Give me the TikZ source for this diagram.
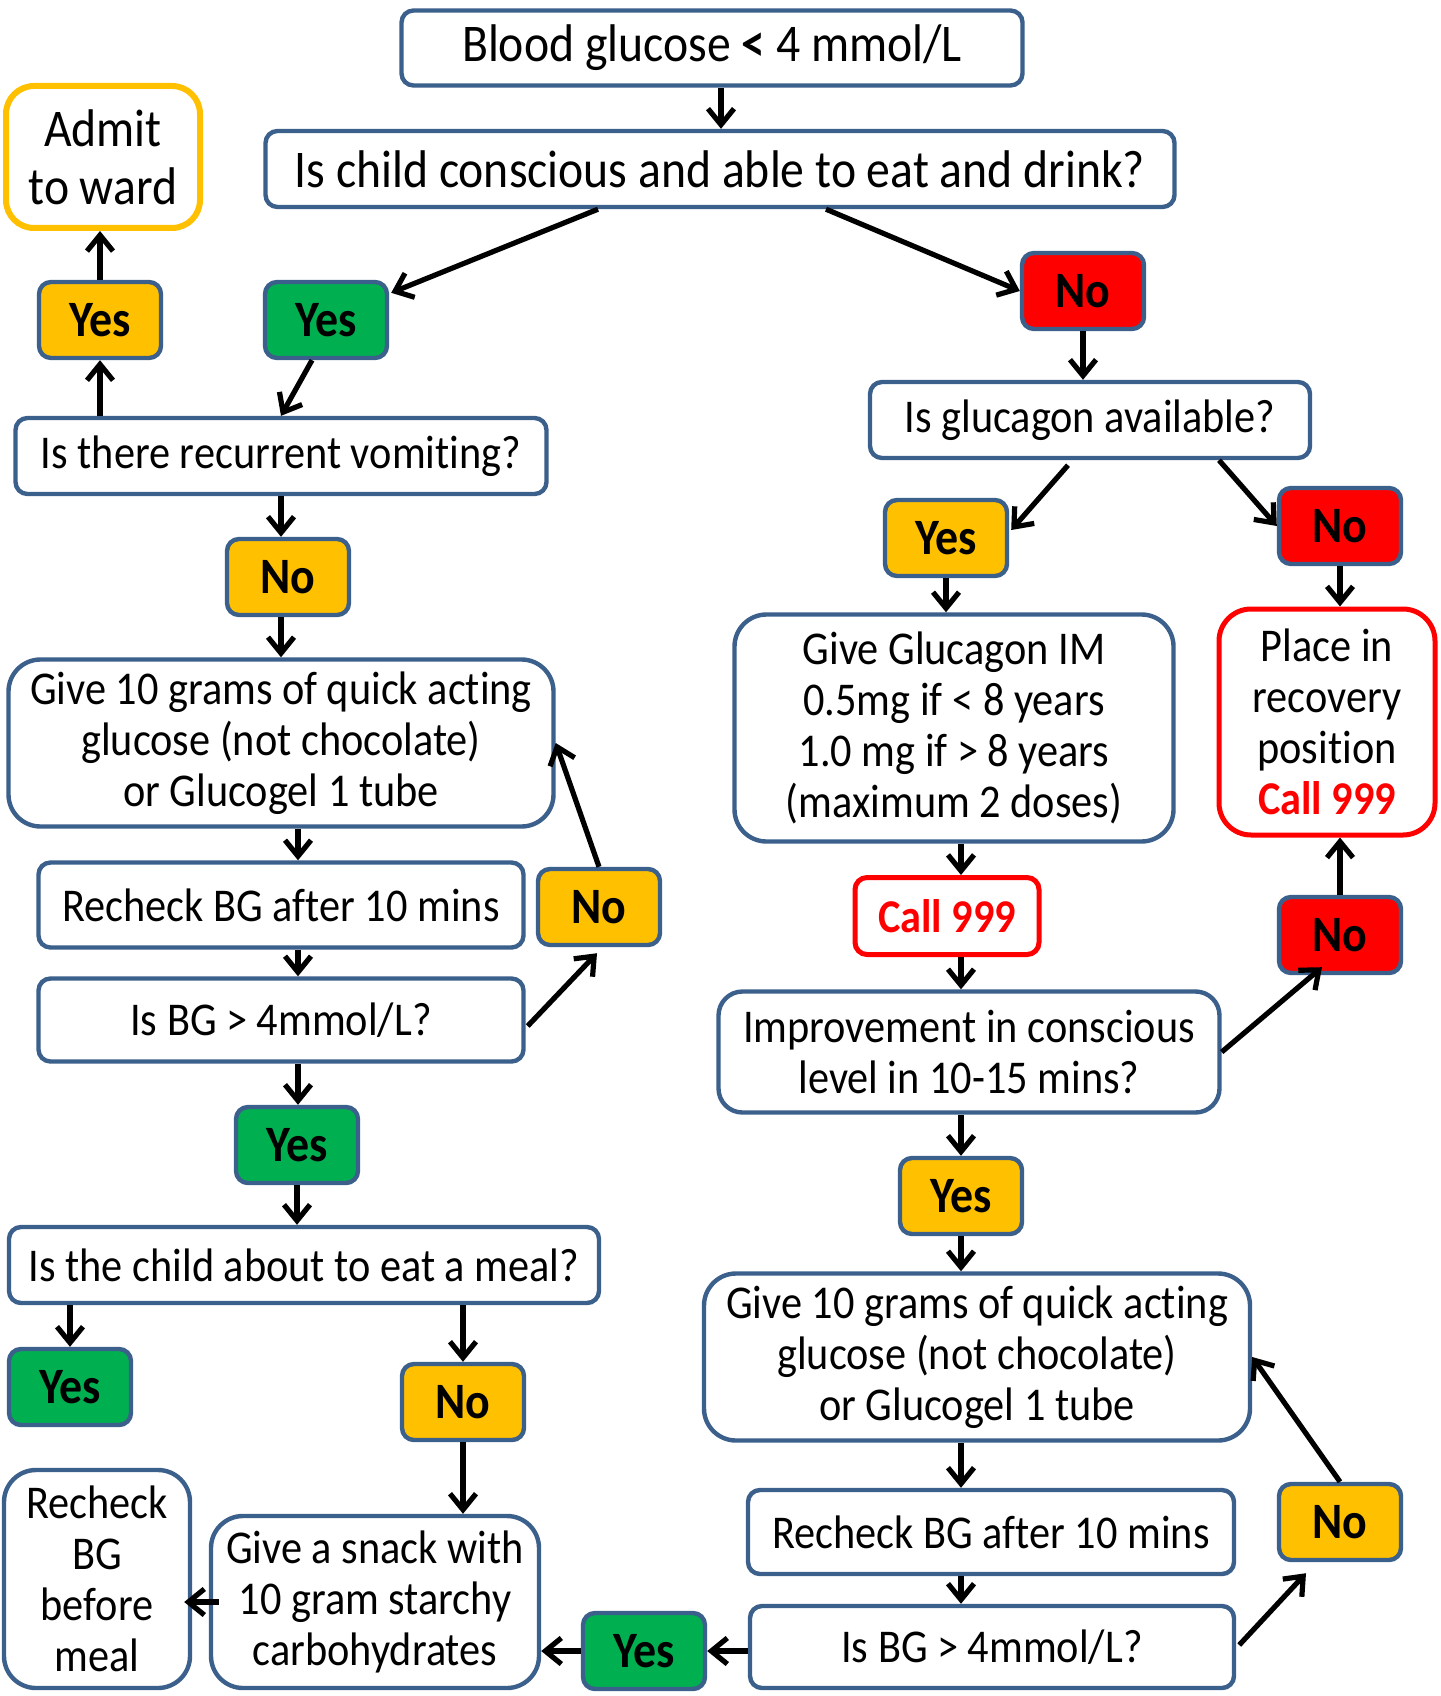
\documentclass[tikz,border=0pt]{standalone}
\usepackage{fontspec}
\setmainfont{Carlito}[FakeStretch=0.9,Ligatures=NoCommon]
\usetikzlibrary{arrows.meta,calc}
\definecolor{bcol}{RGB}{60,96,140}
\definecolor{ora}{RGB}{255,192,0}
\definecolor{grn}{RGB}{0,176,80}
\definecolor{rd}{RGB}{255,0,0}
\begin{document}
\begin{tikzpicture}[x=0.5pt,y=-0.5pt,
 box/.style={draw=bcol, line width=2.2pt, fill=white, rounded corners=6pt, inner sep=0pt, align=center, font=\fontsize{23.5}{25.5}\selectfont},
 bigbox/.style={box, rounded corners=16pt},
 lab/.style={draw=bcol, line width=2.2pt, rounded corners=6pt, minimum width=61pt, minimum height=38pt, inner sep=0pt, font=\fontsize{25.5}{28}\selectfont\bfseries},
 yo/.style={lab, fill=ora}, yg/.style={lab, fill=grn}, nr/.style={lab, fill=rd},
 arr/.style={line width=2.6pt, -{Straight Barb[length=8pt,width=13pt]}}
]
\fill[white] (0,0) rectangle (1440,1696);
\useasboundingbox (0,0) rectangle (1440,1696);

\node[box, minimum width=310.5pt, minimum height=37.5pt, font=\fontsize{26.5}{29}\selectfont] (title) at (712,48) {Blood glucose \textbf{<} 4 mmol/L};
\node[box, minimum width=454.5pt, minimum height=38pt, font=\fontsize{26.5}{29}\selectfont] (consc) at (720,169) {Is child conscious and able to eat and drink?};
\node[box, draw=ora, line width=3pt, rounded corners=14pt, minimum width=97pt, minimum height=71pt, font=\fontsize{26.5}{29}\selectfont] (admit) at (103,157) {Admit\\to ward};
\node[yo] (yesA) at (100,320) {Yes};
\node[yg] (yesG1) at (326,320) {Yes};
\node[nr] (noR1) at (1083,291) {No};
\node[box, minimum width=220pt, minimum height=38pt] (gluc) at (1090,420) {Is glucagon available?};
\node[box, minimum width=265.5pt, minimum height=38pt] (vomit) at (281,456) {Is there recurrent vomiting?};
\node[yo] (yesO2) at (946,538) {Yes};
\node[nr] (noR2) at (1340,526) {No};
\node[yo] (noO1) at (288,577) {No};
\node[bigbox, minimum width=219.5pt, minimum height=113.5pt] (glucIM) at (954,728) {Give Glucagon IM\\0.5mg if < 8 years\\1.0 mg if > 8 years\\(maximum 2 doses)};
\node[bigbox, draw=rd, line width=2.5pt, minimum width=108pt, minimum height=113pt] (place) at (1327,722) {Place in\\recovery\\position\\\textcolor{rd}{\textbf{Call 999}}};
\node[bigbox, minimum width=272.5pt, minimum height=83.5pt] (give1) at (281,743) {Give 10 grams of quick acting\\glucose (not chocolate)\\or Glucogel 1 tube};
\node[box, minimum width=242.5pt, minimum height=42.5pt] (recheck1) at (281,905) {Recheck BG after 10 mins};
\node[yo] (noO3) at (599,907) {No};
\node[box, draw=rd, line width=2.5pt, minimum width=92pt, minimum height=38.5pt, font=\fontsize{23.5}{25.5}\selectfont\bfseries, text=rd] (call) at (947,916) {Call 999};
\node[nr] (noR3) at (1340,935) {No};
\node[box, minimum width=242.5pt, minimum height=41.5pt] (isbg1) at (281,1020) {Is BG > 4mmol/L?};
\node[bigbox, rounded corners=12pt, minimum width=250.5pt, minimum height=60.5pt] (improve) at (969,1052) {Improvement in conscious\\level in 10-15 mins?};
\node[yg] (yesG2) at (297,1145) {Yes};
\node[yo] (yesO4) at (961,1196) {Yes};
\node[box, minimum width=295pt, minimum height=38pt] (meal) at (304,1265) {Is the child about to eat a meal?};
\node[bigbox, minimum width=273pt, minimum height=83.5pt] (give2) at (977,1357) {Give 10 grams of quick acting\\glucose (not chocolate)\\or Glucogel 1 tube};
\node[yg] (yesG3) at (70,1387) {Yes};
\node[yo] (noO5) at (463,1402) {No};
\node[bigbox, minimum width=93pt, minimum height=109pt] (before) at (97,1579) {Recheck\\BG\\before\\meal};
\node[bigbox, minimum width=164pt, minimum height=86pt] (snack) at (375,1602) {Give a snack with\\10 gram starchy\\carbohydrates};
\node[yg] (yesG4) at (644,1651) {Yes};
\node[box, minimum width=243pt, minimum height=42pt] (recheck2) at (991,1532) {Recheck BG after 10 mins};
\node[yo] (noO6) at (1340,1522) {No};
\node[box, minimum width=242pt, minimum height=41pt] (isbg2) at (992,1647) {Is BG > 4mmol/L?};

\draw[arr] ($(title.south)+(9,0)$) -- ($(consc.north)+(1,0)$);
\draw[arr] ($(consc.south)+(-122,0)$) -- ($(yesG1.north east)+(2,13)$);
\draw[arr] ($(consc.south)+(106,0)$) -- (noR1.west);
\draw[arr] ($(yesG1.south)+(-14,0)$) -- (vomit.north);
\draw[arr] (yesA.south |- vomit.north) -- (yesA.south);
\draw[arr] (yesA.north) -- (yesA.north |- admit.south);
\draw[arr] (vomit.south) -- (vomit.south |- noO1.north);
\draw[arr] (noO1.south -| give1.north) -- (give1.north);
\draw[arr] ($(give1.south)+(17,0)$) -- ($(recheck1.north)+(17,0)$);
\draw[arr] ($(recheck1.south)+(17,0)$) -- ($(isbg1.north)+(17,0)$);
\draw[arr] ($(isbg1.east)+(2,6)$) -- ($(noO3.south)+(-2,6)$);
\draw[arr] (noO3.north) -- (give1.east);
\draw[arr] ($(isbg1.south)+(17,0)$) -- ($(yesG2.north)+(1,0)$);
\draw[arr] (yesG2.south) -- (yesG2.south |- meal.north);
\draw[arr] (yesG3.north |- meal.south) -- (yesG3.north);
\draw[arr] (noO5.north |- meal.south) -- (noO5.north);
\draw[arr] (noO5.south) -- (noO5.south |- snack.north);
\draw[arr] ($(snack.west)+(10,0)$) -- ($(before.east |- snack.west)+(-8,0)$);
\draw[arr] (yesG4.west) -- (yesG4.west -| snack.east);
\draw[arr] (isbg2.west |- yesG4.east) -- (yesG4.east);
\draw[arr] ($(isbg2.east)+(3,-2)$) -- ($(noO6.south)+(-34,11)$);
\draw[arr] (noO6.north) -- (give2.east);
\draw[arr] ($(give2.south)+(-16,0)$) -- ($(recheck2.north)+(-30,0)$);
\draw[arr] ($(recheck2.south)+(-30,0)$) -- ($(isbg2.north)+(-31,0)$);
\draw[arr] (yesO4.north |- improve.south) -- (yesO4.north);
\draw[arr] (yesO4.south) -- (yesO4.south |- give2.north);
\draw[arr] (improve.east) -- ($(noR3.south)+(-18,-8)$);
\draw[arr] (noR3.north) -- (noR3.north |- place.south);
\draw[arr] ($(glucIM.south)+(7,0)$) -- ($(call.north)+(14,0)$);
\draw[arr] ($(call.south)+(14,0)$) -- ($(improve.north)+(-8,0)$);
\draw[arr] ($(gluc.south)+(-22,5)$) -- ($(yesO2.east)+(2,-8)$);
\draw[arr] ($(gluc.south)+(129,0)$) -- (noR2.west);
\draw[arr] (yesO2.south) -- (yesO2.south |- glucIM.north);
\draw[arr] (noR2.south) -- (noR2.south |- place.north);
\draw[arr] (noR1.south) -- (noR1.south |- gluc.north);
\end{tikzpicture}
\end{document}
